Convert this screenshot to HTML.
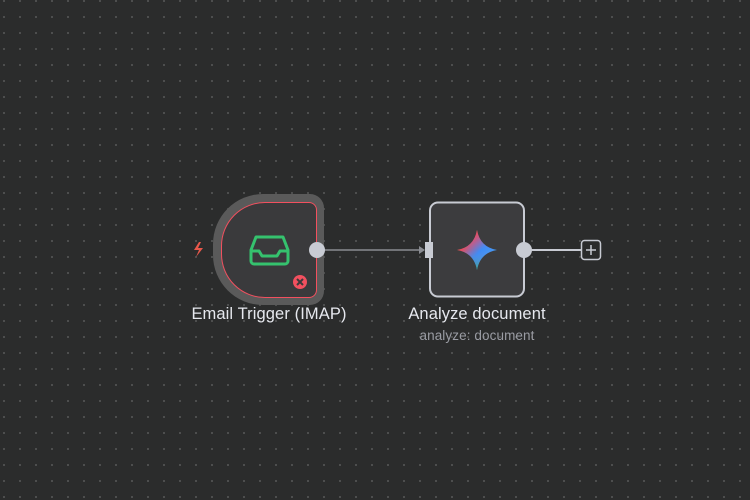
<!DOCTYPE html>
<html><head><style>
html,body{margin:0;padding:0}
body{width:750px;height:500px;overflow:hidden;background-color:#2b2c2c;
background-image:radial-gradient(circle,#5e5f5f 0.7px,transparent 1.1px);
background-size:16px 16px;background-position:-4px -7px;position:relative;
font-family:"Liberation Sans",sans-serif}
.abs{position:absolute}
.lbl{position:absolute;color:#e6e8ee;font-size:16.5px;text-align:center;width:260px;letter-spacing:0.1px}
</style></head><body>
<div class="abs" style="left:213px;top:194px;width:111px;height:111px;background:#5a5a5a;border-radius:50px 14px 14px 50px"></div>
<div class="abs" style="left:221px;top:202px;width:94px;height:94px;background:#3a3a3c;border:1.5px solid #f2505f;border-radius:44px 8px 8px 44px"></div>
<svg class="abs" style="left:0;top:0" width="750" height="500">
  <line x1="317" y1="250" x2="424" y2="250" stroke="#8a8c92" stroke-width="1.5"/>
  <polygon points="419,246 425,250 419,254" fill="#8a8c92"/>
  <rect x="430" y="202.5" width="94" height="94" rx="8" fill="#3c3c3e" stroke="#c8cbd3" stroke-width="2"/>
  <rect x="425" y="242" width="8" height="16" fill="#c8cbd3"/>
  <line x1="524" y1="250" x2="581" y2="250" stroke="#c8cbd3" stroke-width="2"/>
  <circle cx="524" cy="250" r="8" fill="#c8cbd3"/>
  <circle cx="317" cy="250" r="8" fill="#c8cbd3"/>
  <rect x="581.5" y="240.5" width="19" height="19" rx="3" fill="#2b2c2c" stroke="#c8cbd3" stroke-width="1.5"/>
  <line x1="586" y1="250" x2="596" y2="250" stroke="#c8cbd3" stroke-width="1.5"/>
  <line x1="591" y1="245" x2="591" y2="255" stroke="#c8cbd3" stroke-width="1.5"/>
  <g fill="none" stroke="#35c26e" stroke-width="3" stroke-linejoin="round" stroke-linecap="round">
    <path d="M256 237 h27 l5 13 v11 a3 3 0 0 1 -3 3 h-31 a3 3 0 0 1 -3 -3 v-11 z"/>
    <path d="M251 251 h8 l3 5 h15 l3 -5 h8"/>
  </g>
  <circle cx="300" cy="282" r="7" fill="#f2505f"/>
  <path d="M297 279 l6 6 M303 279 l-6 6" stroke="#3a3a3c" stroke-width="2"/>
  <path d="M199 242 l-5 8 h5 l-3 7 l7 -9 h-5 l3 -6 z" fill="#e8584b"/>
  <defs>
    <linearGradient id="g" x1="0" y1="0" x2="1" y2="1">
      <stop offset="0" stop-color="#f2c438"/><stop offset="0.3" stop-color="#ea4b5a"/>
      <stop offset="0.55" stop-color="#3d8cf5"/><stop offset="0.8" stop-color="#4a9cf0"/>
      <stop offset="1" stop-color="#2cb04e"/>
    </linearGradient>
    <linearGradient id="g2" x1="0" y1="0" x2="0" y2="1">
      <stop offset="0" stop-color="#ea4b5a"/><stop offset="0.5" stop-color="#8a7af0" stop-opacity="0"/><stop offset="1" stop-color="#2cb04e"/>
    </linearGradient>
  </defs>
  <path d="M477 230 Q480 247 497 250 Q480 253 477 270 Q474 253 457 250 Q474 247 477 230 Z" fill="url(#g)"/>
  <path d="M477 230 Q480 247 497 250 Q480 253 477 270 Q474 253 457 250 Q474 247 477 230 Z" fill="url(#g2)" opacity="0.6"/>
</svg>
<div class="lbl" style="left:139px;top:305px">Email Trigger (IMAP)</div>
<div class="lbl" style="left:347px;top:305px">Analyze document</div>
<div class="lbl" style="left:347px;top:328px;font-size:13.5px;color:#9a9ca3">analyze: document</div>
</body></html>
